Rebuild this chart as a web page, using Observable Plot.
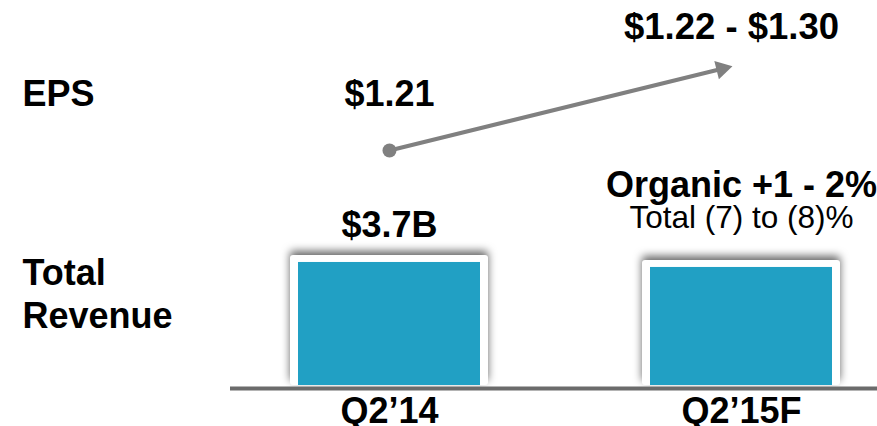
<!DOCTYPE html>
<html><head><meta charset="utf-8">
<script src="https://cdn.jsdelivr.net/npm/d3@7"></script>
<script src="https://cdn.jsdelivr.net/npm/@observablehq/plot@0.6"></script>
<style>
body{margin:0;background:#fff;}
#chart{position:relative;width:877px;height:426px;overflow:hidden;background:#fff;font-family:"Liberation Sans",Arial,sans-serif;}
#chart svg{position:absolute;left:0;top:0;}
</style></head><body><div id="chart"></div>
<script>
// ---- data ----
const periods = ["Q2’14", "Q2’15F"];
const revenue = [3.7, 3.55];
const revenueLabels = ["$3.7B", "Organic +1 - 2%"];
const revenueSubLabels = ["", "Total (7) to (8)%"];
const epsActual = 1.21;
const epsGuidance = [1.22, 1.30];
const epsLabels = ["$1.21", "$1.22 - $1.30"];
const rowLabels = ["EPS", "Total\nRevenue"];

// ---- derived tables ----
const epsGuidanceMid = (epsGuidance[0] + epsGuidance[1]) / 2;
const rev = periods.map((p, i) => ({period: p, value: revenue[i], label: revenueLabels[i], sub: revenueSubLabels[i]}));
const epsPts = [
  {period: periods[0], value: epsActual, label: epsLabels[0]},
  {period: periods[1], value: epsGuidanceMid, label: epsLabels[1]}
];
const epsLine = [{x1: periods[0], y1: epsActual, x2: periods[1], y2: epsGuidanceMid}];

const FONT = '"Liberation Sans", Arial, sans-serif';
const xScale = {type: "band", domain: periods, range: [241, 888], paddingInner: 0.484, paddingOuter: 0.159, align: 0.5, axis: null};
const baseStyle = {fontFamily: FONT, background: "transparent", overflow: "visible", color: "#000"};

const revPlot = Plot.plot({
  width: 877, height: 426,
  marginTop: 252, marginBottom: 41, marginLeft: 230, marginRight: 0,
  x: xScale,
  y: {domain: [0, 4], axis: null},
  style: baseStyle,
  marks: [
    Plot.barY(rev, {x: "period", y: "value", fill: "white", insetLeft: -8, insetRight: -8, insetTop: -7, rx: 3}),
    Plot.barY(rev, {x: "period", y: "value", fill: "#21a0c4"}),
    Plot.ruleY([0], {stroke: "#6b6b6b", strokeWidth: 4, dy: 3}),
    Plot.text(rev, {x: "period", y: 0, text: "period", dy: 37, lineAnchor: "bottom", fontSize: 36, fontWeight: "bold", fill: "#000"}),
    Plot.text(rev, {filter: d => d.period === periods[0], x: "period", y: "value", text: "label", dy: -25, lineAnchor: "bottom", fontSize: 36, fontWeight: "bold", fill: "#000"}),
    Plot.text(rev, {filter: d => d.period === periods[1], x: "period", y: "value", text: "label", dy: -70, lineAnchor: "bottom", fontSize: 36, fontWeight: "bold", fill: "#000"}),
    Plot.text(rev, {filter: d => d.sub, x: "period", y: "value", text: "sub", dy: -39, lineAnchor: "bottom", fontSize: 31.5, fill: "#000"}),
    Plot.text([rowLabels[1]], {text: d => d, frameAnchor: "top-left", textAnchor: "start", lineAnchor: "top", dx: -208, dy: 2, fontSize: 36, fontWeight: "bold", lineHeight: 1.19, fill: "#000"})
  ]
});

// soft shadow around the white bar frames
const frameGroup = revPlot.querySelector('g[aria-label="bar"]');
if (frameGroup) frameGroup.style.filter = "drop-shadow(0px -4px 4px rgba(0,0,0,0.6))";

const epsPlot = Plot.plot({
  width: 877, height: 426,
  marginTop: 0, marginBottom: 0, marginLeft: 22, marginRight: 0,
  x: xScale,
  y: {domain: [epsActual, epsGuidanceMid], range: [150, 63.5], axis: null},
  style: baseStyle,
  marks: [
    Plot.arrow(epsLine, {x1: "x1", y1: "y1", x2: "x2", y2: "y2", stroke: "#808080", strokeWidth: 4, headLength: 0, insetEnd: 22}),
    Plot.dot([epsPts[0]], {x: "period", y: "value", r: 7, fill: "#808080"}),
    Plot.dot([epsPts[1]], {x: "period", y: "value", r: 9, symbol: "triangle2", fill: "#808080", rotate: 76, dx: -19.6, dy: 4.8}),
    Plot.text([epsPts[0]], {x: "period", y: "value", text: "label", dy: -45, lineAnchor: "bottom", fontSize: 36, fontWeight: "bold", fill: "#000"}),
    Plot.text([epsPts[1]], {x: "period", y: "value", text: "label", dx: -10, dy: -25.5, lineAnchor: "bottom", fontSize: 36.5, fontWeight: "bold", fill: "#000"}),
    Plot.text([{label: rowLabels[0], value: epsActual}], {y: "value", text: "label", frameAnchor: "left", textAnchor: "start", dy: -45, lineAnchor: "bottom", fontSize: 36, fontWeight: "bold", fill: "#000"})
  ]
});

const chart = document.getElementById("chart");
chart.appendChild(revPlot);
chart.appendChild(epsPlot);
</script>
</body></html>
